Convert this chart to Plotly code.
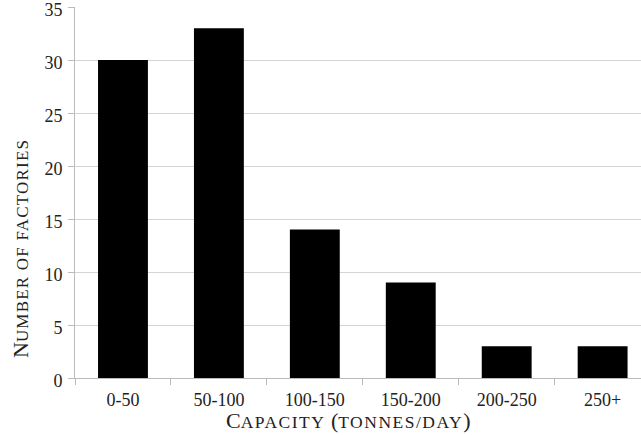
import plotly.graph_objects as go

categories = ["0-50", "50-100", "100-150", "150-200", "200-250", "250+"]
factories = [30, 33, 14, 9, 3, 3]
y_ticks = [0, 5, 10, 15, 20, 25, 30, 35]

FONT = "Liberation Serif"
W, H = 641, 435
ML, MR, MT, MB = 75, 0, 7, 57

fig = go.Figure(go.Bar(
    x=categories, y=factories, width=0.52,
    marker=dict(color="black", line=dict(width=0)),
    hoverinfo="skip",
))

fig.update_layout(
    width=W, height=H,
    margin=dict(l=ML, r=MR, t=MT, b=MB, autoexpand=False),
    plot_bgcolor="white", paper_bgcolor="white",
    font=dict(family=FONT, size=18, color="#222"),
    showlegend=False,
)
fig.update_xaxes(
    type="category", range=[-0.5, 5.4], automargin=False,
    showline=True, linecolor="#bbbbbb", linewidth=1,
    ticks="outside", tickson="boundaries", ticklen=6, tickcolor="#bbbbbb",
    showgrid=False, ticklabelstandoff=5, ticklabeloverflow="allow",
)
fig.update_yaxes(
    range=[0, 35], tickvals=y_ticks, automargin=False,
    showline=True, linecolor="#bbbbbb", linewidth=1,
    ticks="outside", ticklen=6, tickcolor="#bbbbbb",
    showgrid=True, gridcolor="#d4d4d4", gridwidth=1,
    zeroline=False, ticklabeloverflow="allow", ticklabelstandoff=2,
    ticklabelshift=3,
)

ph = H - MT - MB
pw = W - ML - MR
sc_x = "font-size:17.5px;letter-spacing:1.5px"
sc_y = "font-size:17px;letter-spacing:1.2px"
fig.add_annotation(
    text=f"C<span style='{sc_x}'>APACITY</span> (<span style='{sc_x}'>TONNES/DAY</span>)",
    xref="paper", yref="paper",
    x=(348 - ML) / pw, y=(H - MB - 420) / ph,
    xanchor="center", yanchor="middle", showarrow=False,
    font=dict(family=FONT, size=22, color="#222"),
)
fig.add_annotation(
    text=f"N<span style='{sc_y}'>UMBER OF FACTORIES</span>",
    xref="paper", yref="paper",
    x=(20 - ML) / pw, y=(H - MB - 249) / ph,
    xanchor="center", yanchor="middle", textangle=-90, showarrow=False,
    font=dict(family=FONT, size=22, color="#222"),
)

fig.write_html(
    "out.html",
    config={"displayModeBar": False, "staticPlot": True},
    post_script="document.body.style.margin='0';document.body.style.overflow='hidden';",
)
